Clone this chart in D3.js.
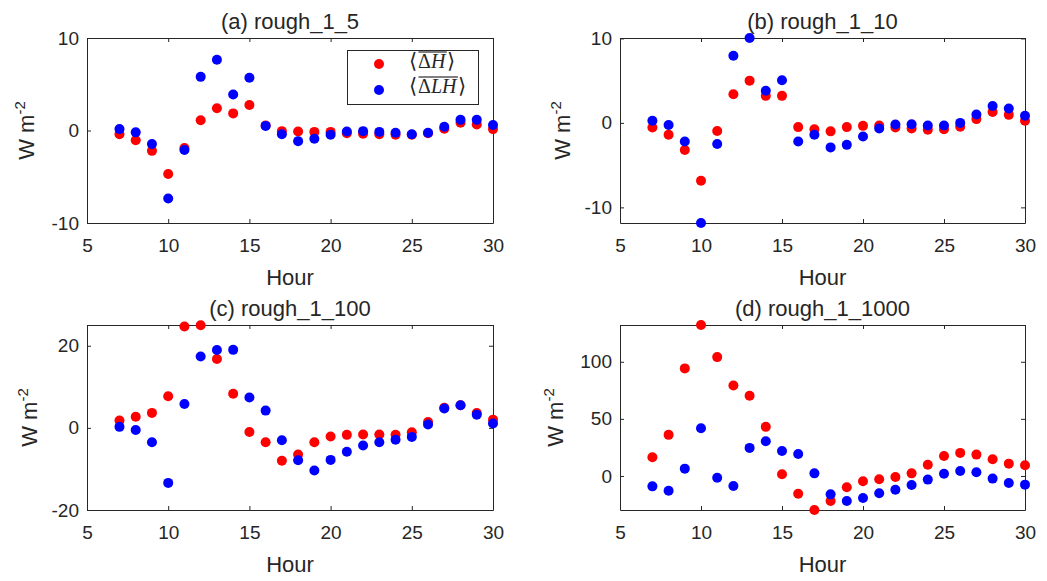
<!DOCTYPE html>
<html>
<head>
<meta charset="utf-8">
<script src="https://cdn.jsdelivr.net/npm/d3@7"></script>
<style>
  body { margin: 0; background: #fff; }
  text { fill: #262626; }
</style>
</head>
<body>
<svg id="chart" width="1047" height="581"></svg>
<script>
// Hour of day (x) for every series
const hours = [7, 8, 9, 10, 11, 12, 13, 14, 15, 16, 17, 18, 19, 20, 21, 22, 23, 24, 25, 26, 27, 28, 29, 30];
const xTicks = [5, 10, 15, 20, 25, 30];

// <ΔH> and <ΔLH> for each roughness case (W m-2)
const dH_5 = [-0.4, -1.05, -2.2, -4.7, -1.9, 1.1, 2.4, 1.85, 2.75, 0.55, -0.07, -0.1, -0.15, -0.15, -0.3, -0.35, -0.4, -0.45, -0.45, -0.3, 0.2, 0.85, 0.65, 0.15];
const dLH_5 = [0.15, -0.2, -1.45, -7.35, -2.1, 5.8, 7.65, 3.9, 5.7, 0.5, -0.4, -1.15, -0.9, -0.45, -0.1, -0.07, -0.15, -0.25, -0.4, -0.25, 0.4, 1.15, 1.15, 0.6];

const dH_10 = [-0.55, -1.4, -3.2, -6.85, -0.95, 3.4, 5.0, 3.2, 3.2, -0.5, -0.75, -1.0, -0.5, -0.35, -0.3, -0.55, -0.65, -0.8, -0.75, -0.45, 0.45, 1.3, 0.95, 0.25];
const dLH_10 = [0.25, -0.25, -2.2, -11.85, -2.5, 7.95, 10.05, 3.8, 5.05, -2.2, -1.4, -2.9, -2.6, -1.6, -0.65, -0.2, -0.15, -0.3, -0.3, 0.0, 1.0, 2.0, 1.7, 0.85];

const dH_100 = [1.8, 2.7, 3.65, 7.7, 24.7, 25.0, 16.75, 8.3, -1.0, -3.5, -8.0, -6.5, -3.5, -2.1, -1.7, -1.6, -1.6, -1.7, -1.05, 1.4, 4.9, 5.5, 3.6, 2.0];
const dLH_100 = [0.25, -0.5, -3.5, -13.4, 5.8, 17.4, 18.95, 19.0, 7.4, 4.2, -3.0, -7.9, -10.4, -7.8, -5.8, -4.3, -3.5, -2.9, -2.2, 0.8, 4.7, 5.5, 3.2, 1.05];

const dH_1000 = [16.4, 36, 94.2, 132.2, 104.1, 79.2, 70.2, 43, 1.5, -15.5, -29.8, -21.9, -9.9, -4.7, -2.9, -0.9, 2.3, 9.9, 17.5, 20.2, 18.7, 14.6, 10.8, 9.4];
const dLH_1000 = [-9.1, -12.9, 6.4, 41.8, -1.5, -8.8, 24.6, 30.4, 21.9, 19.3, 2.3, -16.1, -21.9, -19.3, -15.2, -12.0, -7.9, -3.2, 2.0, 4.4, 3.2, -2.3, -6.1, -7.6];

// Panel titles, y limits and y tick labels
const titles = ["(a) rough_1_5", "(b) rough_1_10", "(c) rough_1_100", "(d) rough_1_1000"];
const yDomains = [[-10, 10], [-11.85, 10.05], [-20, 25.05], [-29.8, 132.2]];
const yTicks = [[-10, 0, 10], [-10, 0, 10], [-20, 0, 20], [0, 50, 100]];
const seriesH = [dH_5, dH_10, dH_100, dH_1000];
const seriesLH = [dLH_5, dLH_10, dLH_100, dLH_1000];

// Layout of the 2x2 grid
const cols = [[87, 493], [620, 1025]];
const rows = [[38, 223], [325, 510]];
const yLabelOffset = [53, 50, 50, 57];

const SANS = "'Liberation Sans', Arial, Helvetica, sans-serif";
const SERIF = "'Liberation Serif', 'DejaVu Serif', 'Times New Roman', serif";
const AXIS_COLOR = "#262626";
const RED = "#ff0000", BLUE = "#0000ff";
const R = 5;
const plainNumber = d => String(d);

const svg = d3.select("#chart");

function styleAxis(g) {
  g.selectAll("path.domain").attr("stroke", AXIS_COLOR).attr("stroke-width", 1);
  g.selectAll(".tick line").attr("stroke", AXIS_COLOR).attr("stroke-width", 1);
  g.selectAll(".tick text")
    .attr("font-family", SANS)
    .attr("font-size", 19)
    .attr("fill", AXIS_COLOR);
}

// Math-style label: pieces laid out left to right, with an overline
// spanning the pieces flagged "bar"
function mathLabel(g, x, y, parts, size) {
  let cx = x;
  const spans = [];
  parts.forEach(p => {
    const t = g.append("text")
      .attr("x", cx).attr("y", y + (p.dy || 0))
      .attr("font-family", p.font || SERIF)
      .attr("font-size", p.size || size)
      .attr("font-style", p.it ? "italic" : "normal")
      .attr("font-weight", p.weight || null)
      .attr("fill", "#000")
      .text(p.s);
    const w = t.node().getComputedTextLength();
    if (p.bar) spans.push([cx, cx + w]);
    cx += w + (p.gap || 0);
  });
  if (spans.length) {
    g.append("line")
      .attr("x1", spans[0][0] + 0.5).attr("x2", spans[spans.length - 1][1] + 1.5)
      .attr("y1", y - size * 0.8).attr("y2", y - size * 0.8)
      .attr("stroke", "#000").attr("stroke-width", 1);
  }
}

const LBR = { s: "\u27E8", size: 21, dy: 0, font: "'DejaVu Sans', sans-serif", weight: 200, gap: 1 };
const RBR = { s: "\u27E9", size: 21, dy: 0, font: "'DejaVu Sans', sans-serif", weight: 200 };

titles.forEach((title, i) => {
  const [x0, x1] = cols[i % 2];
  const [y0, y1] = rows[Math.floor(i / 2)];

  const x = d3.scaleLinear().domain([5, 30]).range([x0, x1]);
  const y = d3.scaleLinear().domain(yDomains[i]).range([y1, y0]);

  const g = svg.append("g");

  // Box axes with inward ticks on all four sides
  g.append("g").attr("transform", `translate(0,${y1})`)
    .call(d3.axisBottom(x).tickValues(xTicks).tickFormat(plainNumber).tickSizeInner(-4).tickSizeOuter(0).tickPadding(15.5))
    .call(styleAxis);
  g.append("g").attr("transform", `translate(0,${y0})`)
    .call(d3.axisTop(x).tickValues(xTicks).tickSizeInner(-4).tickSizeOuter(0).tickFormat(""))
    .call(styleAxis);
  g.append("g").attr("transform", `translate(${x0},0)`)
    .call(d3.axisLeft(y).tickValues(yTicks[i]).tickFormat(plainNumber).tickSizeInner(-4).tickSizeOuter(0).tickPadding(8))
    .call(styleAxis);
  g.append("g").attr("transform", `translate(${x1},0)`)
    .call(d3.axisRight(y).tickValues(yTicks[i]).tickSizeInner(-4).tickSizeOuter(0).tickFormat(""))
    .call(styleAxis);
  g.selectAll(".tick text").filter(function () { return this.textContent === ""; }).remove();

  // Title
  g.append("text")
    .attr("x", (x0 + x1) / 2).attr("y", y0 - 9)
    .attr("text-anchor", "middle")
    .attr("font-family", SANS).attr("font-size", 22)
    .attr("fill", "#000")
    .text(title);

  // X label
  g.append("text")
    .attr("x", (x0 + x1) / 2).attr("y", y1 + 62)
    .attr("text-anchor", "middle")
    .attr("font-family", SANS).attr("font-size", 22)
    .attr("fill", AXIS_COLOR)
    .text("Hour");

  // Y label with superscript
  const yl = g.append("text")
    .attr("transform", `translate(${x0 - yLabelOffset[i]},${(y0 + y1) / 2}) rotate(-90)`)
    .attr("text-anchor", "middle")
    .attr("font-family", SANS).attr("font-size", 22)
    .attr("fill", AXIS_COLOR);
  yl.append("tspan").text("W m");
  yl.append("tspan").attr("font-size", 15).attr("dy", -9).text("-2");

  // Markers: <ΔH> first, <ΔLH> on top
  g.append("g").selectAll("circle")
    .data(hours.map((h, k) => [h, seriesH[i][k]]))
    .join("circle")
    .attr("cx", d => x(d[0])).attr("cy", d => y(d[1])).attr("r", R)
    .attr("fill", RED);
  g.append("g").selectAll("circle")
    .data(hours.map((h, k) => [h, seriesLH[i][k]]))
    .join("circle")
    .attr("cx", d => x(d[0])).attr("cy", d => y(d[1])).attr("r", R)
    .attr("fill", BLUE);

  // Legend in the first panel
  if (i === 0) {
    const lg = g.append("g");
    const lx = x1 - 146, ly = y0 + 12;
    lg.append("rect")
      .attr("x", lx + 0.5).attr("y", ly + 0.5).attr("width", 131).attr("height", 54)
      .attr("fill", "#fff").attr("stroke", AXIS_COLOR).attr("stroke-width", 1);
    lg.append("circle").attr("cx", lx + 32).attr("cy", ly + 14).attr("r", R).attr("fill", RED);
    lg.append("circle").attr("cx", lx + 32).attr("cy", ly + 40).attr("r", R).attr("fill", BLUE);
    mathLabel(lg, lx + 62, ly + 18, [
      LBR, { s: "\u0394", bar: true }, { s: "H", it: true, bar: true, gap: 2 }, RBR
    ], 20);
    mathLabel(lg, lx + 62, ly + 43, [
      LBR, { s: "\u0394", bar: true }, { s: "L", it: true, bar: true }, { s: "H", it: true, bar: true, gap: 2 }, RBR
    ], 20);
  }
});
</script>
</body>
</html>
